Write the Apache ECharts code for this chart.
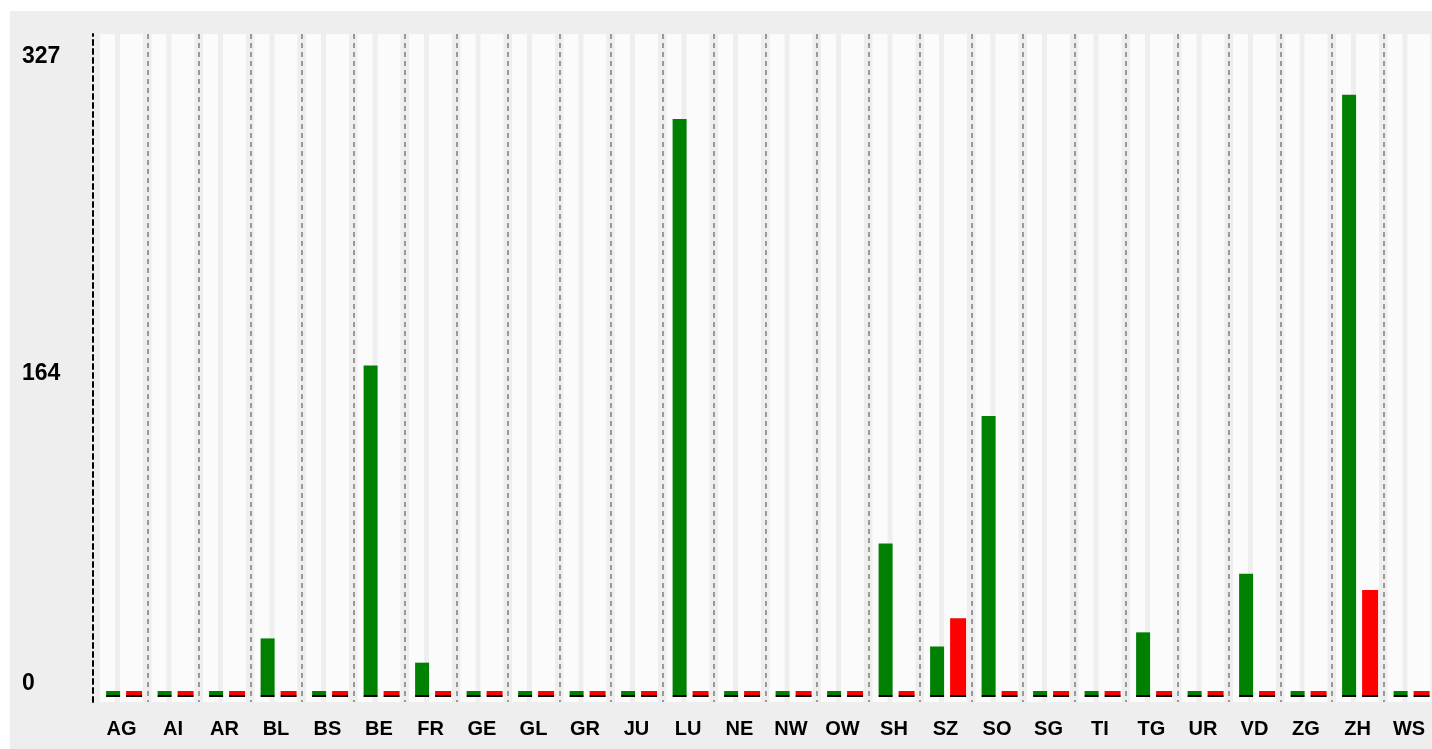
<!DOCTYPE html>
<html>
<head>
<meta charset="utf-8">
<script src="https://cdn.jsdelivr.net/npm/echarts@6/dist/echarts.min.js"></script>
<style>
  html, body { margin: 0; padding: 0; background: #ffffff; }
  #chart { position: absolute; left: 10px; top: 11px; width: 1422px; height: 738px; }
</style>
</head>
<body>
<div id="chart"></div>
<script>
// Canton codes along the x axis
const cantons = ['AG', 'AI', 'AR', 'BL', 'BS', 'BE', 'FR', 'GE', 'GL', 'GR', 'JU', 'LU', 'NE',
                 'NW', 'OW', 'SH', 'SZ', 'SO', 'SG', 'TI', 'TG', 'UR', 'VD', 'ZG', 'ZH', 'WS'];

// Values per canton, green and red series
const valuesGreen = [0, 0, 0, 28, 0, 163, 16, 0, 0, 0, 0, 285, 0, 0, 0, 75, 24, 138, 0, 0, 31, 0, 60, 0, 297, 0];
const valuesRed   = [0, 0, 0, 0, 0, 0, 0, 0, 0, 0, 0, 0, 0, 0, 0, 0, 38, 0, 0, 0, 0, 0, 0, 0, 52, 0];

// Value-axis labels: zero, half of the top and the top of the scale
const yTicks = [0, 164, 327];
const yTickLabels = ['0', '164', '327'];
const yTop = 327;
const yFloor = -3.46;

const FONT = '"Liberation Sans", Arial, Helvetica, sans-serif';

// Thin black foot drawn under every bar (stacked just below zero)
const footDepth = -1;
const feet = cantons.map(() => footDepth);
// Empty bars whose backgrounds give the pale column stripes
const stripeHolders = cantons.map(() => 0);

// per-label vertical nudges of the value-axis labels
const labelRich = {};
const nudges = [[0, 0, 22, 0], [21, 0, 0, 0], [46, 0, 0, 0]];
yTicks.forEach((t, i) => {
  labelRich['t' + i] = {
    fontSize: 23, fontWeight: 'bold', fontFamily: FONT, color: '#000000',
    padding: nudges[i]
  };
});

const chart = echarts.init(document.getElementById('chart'), null, { renderer: 'canvas' });

const option = {
  backgroundColor: '#eeeeee',
  animation: false,
  grid: [
    { left: 85.75, width: 1339, top: 23, bottom: 47, outerBoundsMode: 'none', containLabel: false },
    { left: 88.35, width: 1339, top: 23, bottom: 47, outerBoundsMode: 'none', containLabel: false }
  ],
  xAxis: [
    {
      type: 'category', gridIndex: 0, data: cantons,
      axisLine: { show: false, onZero: false },
      axisTick: { show: false },
      axisLabel: {
        interval: 0, margin: 17, color: '#000000',
        fontSize: 20, fontWeight: 'bold', fontFamily: FONT
      },
      splitLine: {
        show: true,
        interval: (i) => i > 0,
        lineStyle: { color: '#999999', width: 2, type: [5, 4] }
      }
    },
    { type: 'category', gridIndex: 0, data: cantons, show: false, axisLine: { onZero: false } },
    { type: 'category', gridIndex: 1, data: cantons, show: false, axisLine: { onZero: false } }
  ],
  yAxis: [
    {
      type: 'value', gridIndex: 0, min: yFloor, max: yTop, offset: 2.75,
      axisLine: { show: true, lineStyle: { color: '#000000', width: 2, type: [5, 4] } },
      axisTick: { show: false },
      splitLine: { show: false },
      axisLabel: {
        customValues: yTicks,
        align: 'left', margin: 71,
        formatter: (v) => {
          const i = yTicks.indexOf(v);
          return i < 0 ? '' : '{t' + i + '|' + yTickLabels[i] + '}';
        },
        rich: labelRich
      }
    },
    { type: 'value', gridIndex: 1, min: yFloor, max: yTop, show: false }
  ],
  series: [
    {
      type: 'bar', xAxisIndex: 1, yAxisIndex: 0, silent: true,
      data: stripeHolders, barWidth: 15, barGap: '33.333%',
      showBackground: true, backgroundStyle: { color: '#fbfbfb' },
      itemStyle: { color: 'rgba(0,0,0,0)' }
    },
    {
      type: 'bar', xAxisIndex: 1, yAxisIndex: 0, silent: true,
      data: stripeHolders, barWidth: 23, barGap: '33.333%',
      showBackground: true, backgroundStyle: { color: '#fbfbfb' },
      itemStyle: { color: 'rgba(0,0,0,0)' }
    },
    {
      name: 'green', type: 'bar', xAxisIndex: 2, yAxisIndex: 1, stack: 'g',
      data: valuesGreen, barWidth: 14, barMinHeight: 4, barGap: '42.857%',
      itemStyle: { color: '#008000' }
    },
    {
      type: 'bar', xAxisIndex: 2, yAxisIndex: 1, stack: 'g',
      data: feet, barWidth: 14, barGap: '42.857%',
      itemStyle: { color: '#000000' }
    },
    {
      name: 'red', type: 'bar', xAxisIndex: 2, yAxisIndex: 1, stack: 'r',
      data: valuesRed, barWidth: 16, barMinHeight: 4, barGap: '42.857%',
      itemStyle: { color: '#ff0000' }
    },
    {
      type: 'bar', xAxisIndex: 2, yAxisIndex: 1, stack: 'r',
      data: feet, barWidth: 16, barGap: '42.857%',
      itemStyle: { color: '#000000' }
    }
  ]
};

chart.setOption(option);
</script>
</body>
</html>
